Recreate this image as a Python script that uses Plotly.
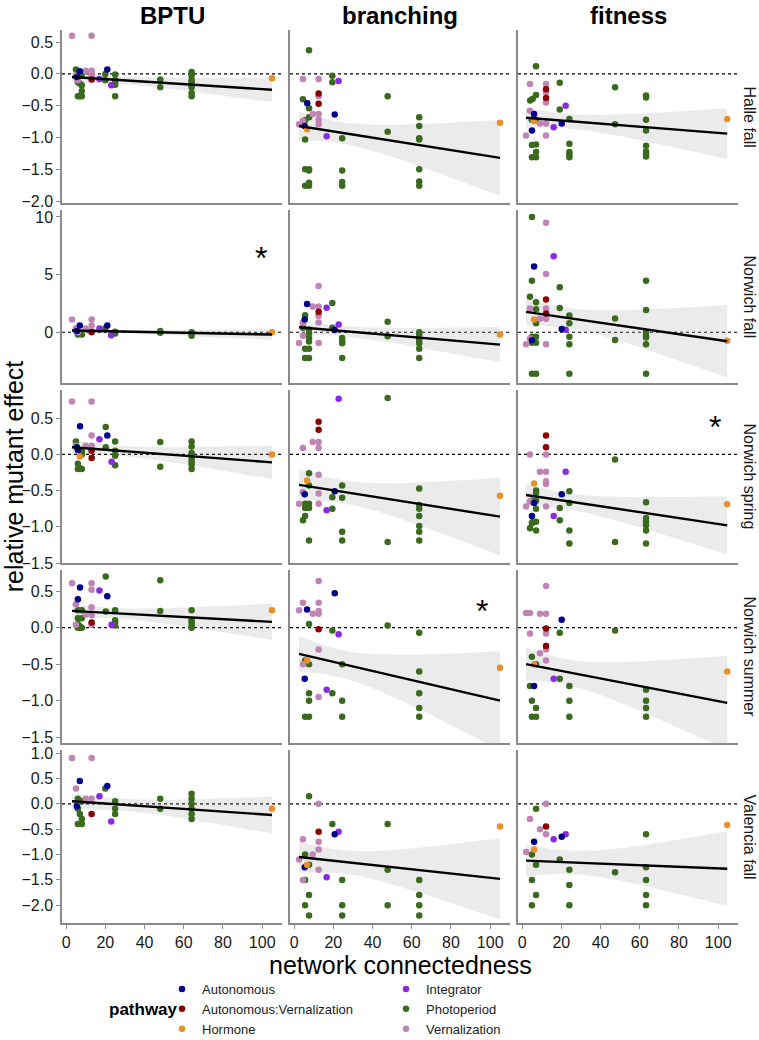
import numpy as np
import plotly.graph_objects as go
from plotly.subplots import make_subplots

conditions = ["Halle fall", "Norwich fall", "Norwich spring", "Norwich summer", "Valencia fall"]
traits = ["BPTU", "branching", "fitness"]

pathway_names = {"A": "Autonomous", "AV": "Autonomous:Vernalization", "H": "Hormone",
                 "I": "Integrator", "P": "Photoperiod", "V": "Vernalization"}
pathway_colors = {"A": "#00008b", "AV": "#8b0000", "H": "#e8902a",
                  "I": "#8a2be2", "P": "#3a6a1e", "V": "#c084b4"}
legend1_codes = ["A", "AV", "H"]
legend2_codes = ["I", "P", "V"]

# (network connectedness, relative mutant effect, pathway)
halle_fall_bptu = [(3,0.6,"V"),(13,0.6,"V"),(5,0.07,"P"),(7,0.04,"A"),(10,0.05,"V"),(13,0.05,"V"),(13,0.0,"V"),
    (13,-0.03,"V"),(13,-0.09,"AV"),(17,-0.08,"I"),(21,0.07,"A"),(20,0.0,"P"),(20,-0.1,"P"),(23,-0.18,"I"),
    (25,-0.01,"P"),(25,-0.1,"P"),(25,-0.13,"P"),(25,-0.17,"P"),(25,-0.35,"P"),(48,-0.09,"P"),(48,-0.21,"P"),
    (64,0.03,"P"),(64,0.0,"P"),(64,-0.03,"P"),(64,-0.1,"P"),(64,-0.13,"P"),(64,-0.17,"P"),(64,-0.21,"P"),
    (64,-0.3,"P"),(64,-0.35,"P"),(105,-0.07,"H"),(5.5,-0.05,"A"),(5,-0.03,"V"),(5.5,-0.08,"V"),(6,-0.1,"V"),
    (6,0.0,"P"),(6,-0.13,"P"),(7,-0.15,"P"),(8,-0.27,"P"),(6,-0.35,"P"),(7,-0.35,"P"),(8,-0.35,"P"),
    (8,0.0,"P"),(8,-0.18,"P")]
halle_fall_branching = [(7.6,0.37,"P"),(19.5,-0.03,"P"),(19.5,-0.13,"P"),(22.7,-0.11,"I"),(4.5,-0.08,"V"),
    (12.5,-0.08,"V"),(4.5,-0.40,"P"),(6.7,-0.46,"A"),(7.6,-0.54,"P"),(12.5,-0.31,"AV"),(12.5,-0.35,"V"),
    (12.5,-0.47,"AV"),(9.5,-0.63,"V"),(12.5,-0.63,"V"),(20.7,-0.64,"A"),(7.6,-0.68,"P"),(12.5,-0.72,"V"),
    (12.5,-0.79,"V"),(5.6,-0.73,"P"),(2.5,-0.79,"V"),(4.5,-0.74,"V"),(5.4,-0.82,"A"),(6.6,-0.87,"H"),
    (5.6,-1.03,"P"),(16.6,-0.98,"I"),(24.5,-1.01,"P"),(47.7,-0.35,"P"),(47.7,-0.91,"P"),(63.8,-0.68,"P"),
    (63.8,-0.82,"P"),(63.8,-1.01,"P"),(63.8,-1.03,"P"),(105,-0.77,"H"),(5.6,-1.5,"P"),(7.6,-1.5,"P"),
    (7.6,-1.52,"P"),(24.5,-1.52,"P"),(63.8,-1.5,"P"),(5.6,-1.76,"P"),(7.6,-1.76,"P"),(7.6,-1.71,"P"),
    (24.5,-1.70,"P"),(24.5,-1.76,"P"),(63.8,-1.69,"P"),(63.8,-1.76,"P")]
halle_fall_fitness = [(7.1,0.12,"P"),(4.0,-0.16,"V"),(12.2,-0.16,"V"),(19.2,-0.14,"P"),(47.4,-0.21,"P"),
    (12.2,-0.24,"AV"),(12.2,-0.29,"V"),(12.2,-0.45,"V"),(12.2,-0.38,"AV"),(7.1,-0.33,"P"),(5.4,-0.39,"P"),
    (4.1,-0.42,"P"),(63.2,-0.34,"P"),(63.2,-0.37,"P"),(19.2,-0.56,"P"),(22.2,-0.5,"I"),(4.0,-0.58,"V"),
    (6.1,-0.63,"A"),(5.9,-0.74,"H"),(4.9,-0.72,"P"),(7.1,-0.72,"P"),(24.1,-0.71,"P"),(63.2,-0.72,"P"),
    (9.1,-0.78,"V"),(12.2,-0.78,"V"),(20.2,-0.78,"A"),(47.4,-0.79,"P"),(16.1,-0.84,"I"),(5.0,-0.89,"A"),
    (63.2,-0.89,"P"),(2.0,-0.97,"V"),(12.2,-0.97,"V"),(5.0,-1.12,"P"),(7.1,-1.11,"P"),(24.1,-1.1,"P"),
    (63.2,-1.13,"P"),(7.1,-1.23,"P"),(24.1,-1.23,"P"),(24.1,-1.27,"P"),(24.1,-1.31,"P"),(63.2,-1.22,"P"),
    (63.2,-1.26,"P"),(63.2,-1.30,"P"),(5.0,-1.31,"P"),(7.1,-1.31,"P"),(104.6,-0.71,"H")]

norwich_fall_bptu = [(3,1.1,"V"),(13,1.1,"V"),(7,0.58,"A"),(13,0.58,"V"),(10,0.32,"V"),(17,0.32,"I"),
    (21,0.58,"A"),(20,0.35,"P"),(5,0.35,"V"),(5,0.1,"V"),(6,0.0,"V"),(13,0.1,"V"),(13,0.0,"AV"),
    (23,-0.26,"I"),(6,-0.2,"P"),(8,-0.2,"P"),(7,-0.05,"P"),(6,0.05,"P"),(25,0.05,"P"),(25,-0.1,"P"),
    (48,0.1,"P"),(48,-0.05,"P"),(64,-0.1,"P"),(64,-0.3,"P"),(64,0.0,"P"),(105,0.0,"H"),(5.5,0.1,"A")]
norwich_fall_branching = [(12.5,4.0,"V"),(19.5,2.53,"P"),(6.6,2.44,"A"),(9.5,2.24,"V"),(12.5,2.24,"V"),
    (16.6,2.12,"I"),(12.5,1.77,"AV"),(12.5,1.54,"V"),(12.5,1.4,"V"),(5.6,1.48,"P"),(5.4,1.1,"A"),
    (12.5,0.84,"V"),(4.5,0.84,"V"),(47.7,0.9,"P"),(22.7,0.67,"I"),(4.6,0.4,"P"),(19.5,0.4,"P"),
    (20.7,0.2,"A"),(7.6,0.23,"P"),(7.6,-0.1,"P"),(7.6,-0.5,"P"),(7.6,-0.8,"P"),(4.5,-0.3,"V"),
    (24.5,-0.5,"P"),(24.5,-0.75,"P"),(24.5,-0.95,"P"),(2.5,-0.93,"V"),(12.5,-0.93,"V"),(47.7,-0.35,"P"),
    (63.8,0.0,"P"),(63.8,-0.2,"P"),(63.8,-0.5,"P"),(63.8,-0.75,"P"),(63.8,-0.95,"P"),(105,-0.2,"H"),
    (5.6,-1.42,"P"),(7.6,-1.42,"P"),(63.8,-1.42,"P"),(5.6,-2.24,"P"),(7.6,-2.24,"P"),(24.5,-2.24,"P"),
    (63.8,-2.24,"P")]
norwich_fall_fitness = [(5.0,10.0,"P"),(12.2,9.5,"V"),(16.1,6.6,"I"),(6.1,5.7,"A"),(12.2,5.05,"V"),
    (5.0,4.47,"P"),(63.2,4.47,"P"),(19.2,3.9,"P"),(4.0,3.08,"P"),(12.2,2.85,"AV"),(7.1,2.61,"P"),
    (4.0,2.06,"V"),(12.2,2.06,"V"),(19.2,2.1,"P"),(7.1,2.0,"P"),(63.2,1.93,"P"),(12.2,1.63,"AV"),
    (24.1,1.45,"P"),(47.4,1.19,"P"),(9.1,1.16,"V"),(12.2,1.16,"V"),(6.1,1.1,"H"),(7.1,0.77,"P"),
    (24.1,0.77,"P"),(20.2,0.29,"A"),(22.2,0.22,"I"),(63.2,0.0,"P"),(63.2,-0.3,"P"),(63.2,-0.45,"P"),
    (24.1,-0.4,"P"),(47.4,-0.67,"P"),(4.0,-0.55,"V"),(2.0,-1.05,"V"),(5.0,-0.7,"A"),(5.0,-0.9,"P"),
    (7.1,-0.9,"P"),(7.1,-0.4,"P"),(5.0,-0.4,"P"),(12.2,-1.05,"V"),(24.1,-1.05,"P"),(63.2,-1.05,"P"),
    (104.6,-0.73,"H"),(5.0,-3.6,"P"),(7.1,-3.6,"P"),(24.1,-3.6,"P"),(63.2,-3.6,"P")]

norwich_spring_bptu = [(3,0.73,"V"),(13,0.73,"V"),(7.1,0.39,"A"),(13,0.26,"V"),(17,0.21,"I"),(20.2,0.38,"P"),
    (21,0.26,"A"),(5,0.18,"P"),(20.2,0.1,"P"),(25,0.18,"P"),(25,0.05,"P"),(25,-0.02,"P"),(25,-0.15,"P"),
    (48,0.17,"P"),(48,-0.17,"P"),(64,0.18,"P"),(64,0.11,"P"),(64,0.02,"P"),(64,-0.06,"P"),(64,-0.1,"P"),
    (64,-0.14,"P"),(64,-0.2,"P"),(23.2,-0.1,"I"),(10,0.12,"V"),(5,0.12,"V"),(13,0.12,"V"),(13,0.09,"V"),
    (13,0.05,"AV"),(13,-0.05,"AV"),(6,0.06,"A"),(7,-0.03,"H"),(6,-0.13,"P"),(7,-0.19,"P"),(8,-0.2,"P"),
    (6,-0.2,"P"),(8,0.04,"P"),(8,0.0,"P"),(105,0.0,"H"),(5.5,0.1,"A")]
norwich_spring_branching = [(22.7,0.77,"I"),(47.7,0.78,"P"),(12.5,0.45,"AV"),(12.5,0.34,"AV"),(9.5,0.17,"V"),
    (12.5,0.17,"V"),(12.5,0.09,"V"),(4.5,0.09,"V"),(7.6,-0.26,"P"),(12.5,-0.28,"V"),(6.6,-0.36,"H"),
    (7.6,-0.43,"P"),(24.5,-0.43,"P"),(63.8,-0.47,"P"),(5.4,-0.55,"A"),(4.5,-0.52,"V"),(12.5,-0.54,"V"),
    (20.7,-0.51,"A"),(24.5,-0.6,"P"),(19.5,-0.59,"P"),(2.5,-0.68,"V"),(12.5,-0.68,"V"),(5.6,-0.68,"P"),
    (7.6,-0.68,"P"),(5.6,-0.74,"P"),(7.6,-0.74,"P"),(16.6,-0.77,"I"),(19.5,-0.75,"P"),(5.6,-0.85,"P"),
    (4.5,-0.91,"P"),(63.8,-0.70,"P"),(63.8,-0.75,"P"),(63.8,-0.85,"P"),(63.8,-0.99,"P"),(63.8,-1.07,"P"),
    (63.8,-1.19,"P"),(24.5,-1.07,"P"),(24.5,-1.19,"P"),(7.6,-1.19,"P"),(47.7,-1.21,"P"),(105,-0.57,"H")]
norwich_spring_fitness = [(12.2,0.26,"AV"),(12.2,0.1,"AV"),(12.2,0.0,"V"),(4.0,0.0,"V"),(47.4,-0.07,"P"),
    (9.1,-0.24,"V"),(12.2,-0.24,"V"),(22.2,-0.24,"I"),(6.1,-0.4,"H"),(12.2,-0.37,"V"),(12.2,-0.41,"V"),
    (7.1,-0.5,"P"),(7.1,-0.53,"P"),(20.2,-0.55,"A"),(24.1,-0.51,"P"),(24.1,-0.67,"P"),(63.2,-0.66,"P"),
    (2.0,-0.72,"V"),(4.0,-0.65,"V"),(6.1,-0.67,"A"),(5.0,-0.64,"P"),(7.1,-0.64,"P"),(7.1,-0.75,"P"),
    (12.2,-0.72,"V"),(5.0,-0.85,"A"),(16.1,-0.85,"I"),(19.2,-0.74,"P"),(19.2,-0.91,"P"),(5.5,-0.93,"P"),
    (5.0,-0.95,"P"),(7.1,-0.93,"P"),(4.0,-1.02,"P"),(7.1,-1.05,"P"),(24.1,-1.05,"P"),(63.2,-0.88,"P"),
    (63.2,-0.93,"P"),(63.2,-0.98,"P"),(63.2,-1.05,"P"),(24.1,-1.23,"P"),(47.4,-1.21,"P"),(63.2,-1.23,"P"),
    (104.6,-0.69,"H")]

norwich_summer_bptu = [(20.2,0.70,"P"),(48,0.65,"P"),(3,0.61,"V"),(13,0.61,"V"),(7.1,0.55,"A"),(13,0.52,"V"),
    (17,0.51,"I"),(21,0.43,"A"),(6,0.39,"A"),(5,0.32,"V"),(13,0.28,"V"),(6,0.24,"P"),(8,0.24,"P"),
    (20.2,0.22,"P"),(25,0.24,"P"),(48,0.23,"P"),(64,0.24,"P"),(105,0.24,"H"),(10,0.18,"V"),(13,0.17,"V"),
    (6,0.13,"P"),(8,0.13,"P"),(25,0.1,"P"),(25,0.07,"P"),(25,0.03,"P"),(64,0.1,"P"),(64,0.07,"P"),
    (64,0.03,"P"),(64,0.0,"P"),(13,0.07,"AV"),(23.2,0.04,"I"),(6,0.05,"P"),(7,0.02,"P"),(8,0.0,"P"),
    (6,0.0,"P"),(7,0.0,"P"),(5,0.04,"V"),(13,0.04,"V")]
norwich_summer_branching = [(12.5,0.64,"V"),(20.7,0.47,"A"),(4.5,0.34,"V"),(12.5,0.34,"V"),(6.6,0.25,"A"),
    (2.5,0.24,"V"),(9.5,0.19,"V"),(12.5,0.19,"V"),(12.5,0.23,"V"),(7.6,0.05,"P"),(47.7,0.03,"P"),
    (12.5,-0.02,"AV"),(19.5,-0.04,"P"),(22.7,-0.09,"I"),(63.8,-0.07,"P"),(6.6,-0.45,"H"),(5.4,-0.7,"A"),
    (5.6,-0.45,"P"),(7.6,-0.5,"P"),(7.6,-0.9,"P"),(7.6,-1.0,"P"),(7.6,-1.22,"P"),(5.6,-1.22,"P"),
    (24.5,-0.5,"P"),(24.5,-1.0,"P"),(24.5,-1.22,"P"),(19.5,-0.9,"P"),(63.8,-0.6,"P"),(63.8,-0.9,"P"),
    (63.8,-1.1,"P"),(63.8,-1.22,"P"),(12.5,-0.3,"V"),(12.5,-0.95,"V"),(4.5,-0.5,"V"),(16.6,-0.85,"I"),
    (105,-0.55,"H")]
norwich_summer_fitness = [(12.2,0.57,"V"),(2.0,0.2,"V"),(4.0,0.2,"V"),(9.1,0.19,"V"),(12.2,0.19,"V"),
    (20.2,0.11,"A"),(12.2,-0.01,"AV"),(4.0,-0.08,"V"),(12.2,-0.08,"V"),(19.2,-0.07,"P"),(47.4,-0.04,"P"),
    (6.1,-0.5,"H"),(5.0,-0.4,"P"),(7.1,-0.5,"P"),(4.0,-0.8,"P"),(5.0,-1.0,"P"),(7.1,-1.1,"P"),
    (5.0,-1.22,"P"),(7.1,-1.22,"P"),(19.2,-0.7,"P"),(24.1,-0.8,"P"),(24.1,-1.0,"P"),(24.1,-1.22,"P"),
    (63.2,-0.85,"P"),(63.2,-1.0,"P"),(63.2,-1.1,"P"),(63.2,-1.22,"P"),(16.1,-0.7,"I"),(6.1,-0.8,"A"),
    (12.2,-0.3,"V"),(12.2,-0.45,"V"),(9.1,-0.35,"V"),(12.2,-0.25,"AV"),(104.6,-0.6,"H")]

valencia_fall_bptu = [(3,0.9,"V"),(13,0.9,"V"),(7,0.45,"A"),(5,0.3,"V"),(10,0.1,"V"),(13,0.1,"V"),
    (21,0.35,"A"),(20,0.3,"P"),(17,0.15,"I"),(13,-0.2,"AV"),(23,-0.35,"I"),(6,0.1,"P"),(6,-0.1,"P"),
    (7,-0.2,"P"),(8,-0.3,"P"),(6,-0.4,"P"),(8,-0.4,"P"),(8,0.05,"P"),(25,0.05,"P"),(25,-0.1,"P"),
    (25,-0.2,"P"),(48,0.1,"P"),(48,-0.1,"P"),(64,0.2,"P"),(64,0.1,"P"),(64,0.0,"P"),(64,-0.1,"P"),
    (64,-0.2,"P"),(64,-0.3,"P"),(105,-0.1,"H"),(5.5,-0.05,"A")]
valencia_fall_branching = [(7.6,0.15,"P"),(12.5,0.0,"V"),(20.7,-0.6,"A"),(22.7,-0.55,"I"),(19.5,-0.4,"P"),
    (4.5,-0.7,"V"),(12.5,-0.75,"V"),(12.5,-0.9,"V"),(9.5,-1.0,"V"),(2.5,-1.1,"V"),(12.5,-1.3,"V"),
    (4.5,-1.5,"V"),(12.5,-0.55,"AV"),(6.6,-1.2,"H"),(5.4,-1.25,"A"),(16.6,-1.45,"I"),(105,-0.45,"H"),
    (5.6,-1.0,"P"),(7.6,-1.2,"P"),(5.6,-1.5,"P"),(7.6,-1.8,"P"),(5.6,-2.0,"P"),(7.6,-2.2,"P"),
    (24.5,-1.5,"P"),(24.5,-2.0,"P"),(24.5,-2.2,"P"),(47.7,-0.4,"P"),(47.7,-1.3,"P"),(47.7,-2.0,"P"),
    (63.8,-1.5,"P"),(63.8,-1.8,"P"),(63.8,-2.0,"P"),(63.8,-2.2,"P")]
valencia_fall_fitness = [(12.2,0.0,"V"),(7.1,-0.1,"P"),(4.0,-0.3,"V"),(12.2,-0.45,"AV"),(9.1,-0.5,"V"),
    (12.2,-0.6,"V"),(6.1,-0.75,"A"),(20.2,-0.65,"A"),(16.1,-0.7,"I"),(22.2,-0.6,"I"),(2.0,-0.95,"V"),
    (5.0,-1.0,"P"),(7.1,-1.2,"P"),(5.0,-1.5,"P"),(7.1,-1.8,"P"),(5.0,-2.0,"P"),(19.2,-1.1,"P"),
    (24.1,-1.3,"P"),(24.1,-1.6,"P"),(24.1,-2.0,"P"),(47.4,-1.35,"P"),(63.2,-0.6,"P"),(63.2,-1.25,"P"),
    (63.2,-1.5,"P"),(63.2,-1.8,"P"),(63.2,-2.0,"P"),(6.1,-0.9,"H"),(104.6,-0.42,"H")]

panel_data = [
    [halle_fall_bptu, halle_fall_branching, halle_fall_fitness],
    [norwich_fall_bptu, norwich_fall_branching, norwich_fall_fitness],
    [norwich_spring_bptu, norwich_spring_branching, norwich_spring_fitness],
    [norwich_summer_bptu, norwich_summer_branching, norwich_summer_fitness],
    [valencia_fall_bptu, valencia_fall_branching, valencia_fall_fitness],
]

# fitted regression line: value at the smallest and at the largest connectedness
fit_left = [[-0.05, -0.82, -0.69], [0.15, 0.43, 1.77], [0.10, -0.42, -0.56],
            [0.23, -0.36, -0.50], [0.05, -1.05, -1.12]]
fit_right = [[-0.25, -1.32, -0.94], [-0.20, -1.07, -0.78], [-0.11, -0.86, -0.98],
             [0.08, -1.00, -1.03], [-0.22, -1.48, -1.28]]

y_ranges = [[-2.03, 0.69], [-4.4, 10.6], [-1.5, 0.89], [-1.58, 0.79], [-2.35, 1.06]]
y_ticks = [[-2.0, -1.5, -1.0, -0.5, 0.0, 0.5], [0, 5, 10], [-1.5, -1.0, -0.5, 0.0, 0.5],
           [-1.5, -1.0, -0.5, 0.0, 0.5], [-2.0, -1.5, -1.0, -0.5, 0.0, 0.5, 1.0]]
x_range = [-2.1, 110.1]
x_ticks = [0, 20, 40, 60, 80, 100]

# significance markers: (row, col, x, y)
asterisks = [(1, 0, 99.4, 7.05), (2, 2, 98.4, 0.47), (3, 1, 95.8, 0.32)]


def fmt(v):
    s = f"{v:.1f}" if isinstance(v, float) else f"{v}"
    return s.replace("-", "\u2212")


def fit_band(pts, y_left, y_right):
    x = np.array([p[0] for p in pts], float)
    y = np.array([p[1] for p in pts], float)
    n = len(x)
    x0, x1 = x.min(), x.max()
    b1 = (y_right - y_left) / (x1 - x0)
    b0 = y_left - b1 * x0
    resid = y - (b0 + b1 * x)
    s = np.sqrt(np.sum(resid ** 2) / (n - 2))
    xg = np.linspace(x0, x1, 80)
    se = s * np.sqrt(1 / n + (xg - x.mean()) ** 2 / np.sum((x - x.mean()) ** 2))
    yh = b0 + b1 * xg
    return xg, yh, yh - 2.0 * se, yh + 2.0 * se


FONT = "Liberation Sans, Arial, sans-serif"
AXIS_GREY = "#8a8a8a"

# plot area spans page x 62..738, y 30..923
PW, PH = 676, 893

fig = make_subplots(rows=5, cols=3, horizontal_spacing=8 / PW, vertical_spacing=7 / PH)

shown = set()
for r in range(5):
    for c in range(3):
        pts = panel_data[r][c]
        xg, yh, lo, hi = fit_band(pts, fit_left[r][c], fit_right[r][c])
        fig.add_trace(go.Scatter(x=np.concatenate([xg, xg[::-1]]), y=np.concatenate([hi, lo[::-1]]),
                                 fill="toself", fillcolor="rgba(153,153,153,0.2)", line=dict(width=0),
                                 mode="lines", hoverinfo="skip", showlegend=False), row=r + 1, col=c + 1)
        for code in ["P", "V", "I", "AV", "A", "H"]:
            sub = [p for p in pts if p[2] == code]
            if not sub:
                continue
            show = code not in shown
            shown.add(code)
            fig.add_trace(go.Scatter(
                x=[p[0] for p in sub], y=[p[1] for p in sub], mode="markers",
                marker=dict(color=pathway_colors[code], size=6.5, line=dict(width=0)),
                name=pathway_names[code], legendgroup=code, showlegend=show,
                legend="legend" if code in legend1_codes else "legend2",
                legendrank=(legend1_codes + legend2_codes).index(code)),
                row=r + 1, col=c + 1)
        fig.add_trace(go.Scatter(x=xg, y=yh, mode="lines", line=dict(color="black", width=2.4),
                                 hoverinfo="skip", showlegend=False), row=r + 1, col=c + 1)
        idx = r * 3 + c + 1
        sfx = "" if idx == 1 else str(idx)
        fig.add_shape(type="line", xref=f"x{sfx} domain", x0=0, x1=1, yref=f"y{sfx}", y0=0, y1=0,
                      line=dict(color="black", width=1.2, dash="dot"), layer="below")
        fig.update_xaxes(range=x_range, tickvals=x_ticks, ticktext=[str(t) for t in x_ticks],
                         showticklabels=(r == 4), ticks="outside" if r == 4 else "",
                         ticklen=4, tickcolor=AXIS_GREY, tickwidth=1.2,
                         showline=True, linecolor=AXIS_GREY, linewidth=1.5,
                         showgrid=False, zeroline=False,
                         tickfont=dict(size=16, color="#1a1a1a", family=FONT),
                         row=r + 1, col=c + 1)
        fig.update_yaxes(range=y_ranges[r], tickvals=y_ticks[r], ticktext=[fmt(t) for t in y_ticks[r]],
                         showticklabels=(c == 0), ticks="outside" if c == 0 else "",
                         ticklen=4, tickcolor=AXIS_GREY, tickwidth=1.2,
                         showline=True, linecolor=AXIS_GREY, linewidth=1.5,
                         showgrid=False, zeroline=False,
                         tickfont=dict(size=16, color="#1a1a1a", family=FONT),
                         row=r + 1, col=c + 1)

# shared y title on the middle-row left axis (its domain is centred on the whole panel area)
fig.update_yaxes(title=dict(text="relative mutant effect", standoff=0,
                            font=dict(size=25, color="black", family=FONT)), row=3, col=1)

for (r, c, ax, ay) in asterisks:
    idx = r * 3 + c + 1
    sfx = "" if idx == 1 else str(idx)
    fig.add_annotation(x=ax, y=ay, xref=f"x{sfx}", yref=f"y{sfx}", text="*", showarrow=False,
                       xanchor="center", font=dict(size=32, color="black", family=FONT), yshift=-7)

col_centers = [110 / PW, 338 / PW, 566 / PW]
for c, t in enumerate(traits):
    fig.add_annotation(x=col_centers[c], y=1 + 15 / PH, xref="paper", yref="paper",
                       xanchor="center", yanchor="middle",
                       text=f"<b>{t}</b>", showarrow=False,
                       font=dict(size=24, color="black", family=FONT))
for r, cond in enumerate(conditions):
    yc = 1 - (r * 180 + 86.5) / PH
    fig.add_annotation(x=(749 - 62) / PW, y=yc, xref="paper", yref="paper", xanchor="center",
                       yanchor="middle", text=cond, textangle=90, showarrow=False,
                       font=dict(size=16, color="#1a1a1a", family=FONT))

fig.add_annotation(x=0.5, y=-(965 - 923) / PH, xref="paper", yref="paper",
                   xanchor="center", yanchor="middle",
                   text="network connectedness", showarrow=False,
                   font=dict(size=25, color="black", family=FONT))
fig.add_annotation(x=(143 - 62) / PW, y=-(1009 - 923) / PH, xref="paper", yref="paper",
                   xanchor="center", yanchor="middle", text="<b>pathway</b>", showarrow=False,
                   font=dict(size=17, color="black", family=FONT))

legend_style = dict(orientation="v", yanchor="top", xanchor="left", bgcolor="rgba(0,0,0,0)",
                    font=dict(size=13, color="#1a1a1a", family=FONT), itemwidth=30,
                    tracegroupgap=0)
fig.update_layout(
    width=759, height=1040,
    margin=dict(l=62, r=21, t=30, b=117, autoexpand=False),
    paper_bgcolor="white", plot_bgcolor="white",
    font=dict(family=FONT),
    legend=dict(x=(162 - 62) / PW, y=-(974 - 923) / PH, **legend_style),
    legend2=dict(x=(386 - 62) / PW, y=-(974 - 923) / PH, **legend_style),
)

fig.write_html("out.html", config={"displayModeBar": False},
               post_script="document.body.style.margin='0px';document.body.style.overflow='hidden';")
